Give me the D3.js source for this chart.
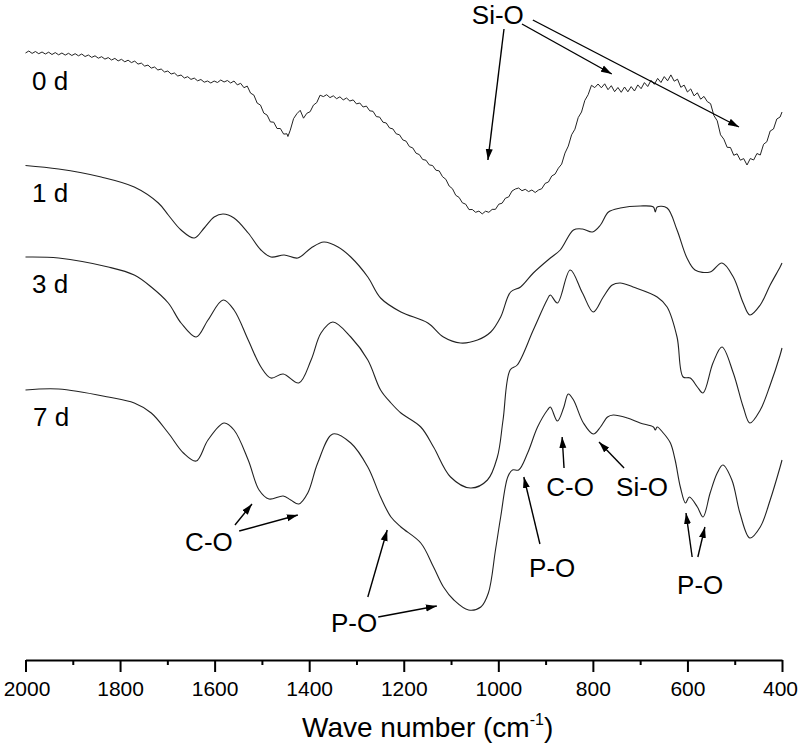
<!DOCTYPE html>
<html><head><meta charset="utf-8">
<script src="https://cdn.jsdelivr.net/npm/d3@7"></script>
<style>
html,body{margin:0;padding:0;background:#fff;}
svg{display:block;}
text{font-family:"Liberation Sans",Arial,Helvetica,sans-serif;fill:#000;}
</style>
</head><body>
<svg id="chart" width="799" height="749"></svg>
<script>
// Wavenumber (cm-1) vs. offset absorbance (a.u., larger = lower on the plot)
const seriesLabels = ["0 d", "1 d", "3 d", "7 d"];
const labelPos = [[1986, 90], [1986, 202], [1986, 293], [1984, 426]];

const day0 = [[2000,53],[1993,51],[1986,53.4],[1979,51.5],[1972,53.7],[1965,52],[1958,54],[1951,52.2],[1944,54.5],[1937,52.6],[1930,54.8],[1923,53],[1916,55.1],[1909,53.3],[1902,55.5],[1895,53.7],[1888,55.8],[1881,54],[1874,56.5],[1867,55],[1860,57.4],[1853,55.8],[1846,58.2],[1839,56.7],[1832,59.1],[1825,57.6],[1818,60],[1811,58.4],[1804,60.9],[1797,59.3],[1790,61.8],[1783,60.2],[1776,62.6],[1769,61.1],[1762,64.1],[1755,63.1],[1748,66.1],[1741,65.1],[1734,68.1],[1727,67],[1720,70],[1713,69],[1706,72],[1699,71],[1692,74],[1685,73],[1678,76],[1671,75],[1664,78],[1657,76.7],[1650,79.4],[1643,78.1],[1636,80.8],[1629,79.5],[1622,82.2],[1615,81],[1608,83],[1601,81],[1594,82.5],[1587,80],[1580,82],[1573,80.5],[1566,83],[1559,81],[1552,84.9],[1545,83.3],[1538,87.7],[1531,86.1],[1524,93.1],[1517,95.1],[1510,103.1],[1503,105.1],[1496,113.1],[1489,115.1],[1482,121.9],[1475,122.2],[1468,128.5],[1461,128.5],[1454,134.1],[1447,133.8],[1445,136.5],[1440,130.2],[1433,118.6],[1426,113.7],[1419,110.3],[1412,118.2],[1405,113.3],[1398,111.7],[1391,105.1],[1384,102.6],[1377,95.2],[1370,96.6],[1363,94.7],[1356,97.6],[1349,95.8],[1342,98.7],[1335,96.8],[1328,99.9],[1321,98],[1314,101],[1307,99.9],[1300,103.9],[1293,103],[1286,107],[1279,106.1],[1272,110.8],[1265,111.3],[1258,116.6],[1251,117.1],[1244,122.2],[1237,123],[1230,128],[1223,128.9],[1216,133.8],[1209,134.8],[1202,139.9],[1195,141.2],[1188,146.6],[1181,147.9],[1174,153.2],[1167,154.6],[1160,159.5],[1153,160.2],[1146,164.9],[1139,165.5],[1132,170.2],[1125,170.9],[1118,176.7],[1111,179.3],[1104,186],[1097,188.7],[1090,195.3],[1083,197.4],[1076,202.8],[1069,204.2],[1062,209.6],[1055,209.5],[1048,212.3],[1041,211.1],[1034,213.9],[1027,211.2],[1020,212.3],[1013,209.4],[1006,209.3],[999,204.2],[992,203.2],[985,198.2],[978,196.9],[971,191],[964,189],[957,188],[950,190.7],[943,189.3],[936,191.6],[929,190],[922,192.5],[915,190],[908,188.7],[901,183.4],[894,182],[887,176],[880,174.1],[873,168.2],[866,164.1],[859,153.1],[852,146.1],[845,134.8],[838,129.2],[831,117.6],[824,112],[817,100.4],[810,94.7],[803,85.3],[796,87.6],[789,84],[782,87.8],[775,83.8],[768,89.7],[761,85.7],[754,91.7],[747,87.5],[740,92.3],[733,87],[726,91.8],[719,86.6],[712,91],[705,84.9],[698,88.7],[691,82.6],[684,86.5],[677,80.3],[670,84.3],[663,78.4],[656,82.5],[649,76.6],[642,80.8],[635,74.9],[628,81.2],[621,79.2],[614,87.3],[607,85.1],[600,92],[593,88.9],[586,95.9],[579,92.8],[572,99.2],[565,96.4],[558,101.6],[551,103.7],[544,115.6],[537,120.8],[530,134.8],[523,139.2],[516,147.3],[509,147.5],[502,155.3],[495,153.8],[488,160.2],[481,158.6],[474,165],[467,158.5],[460,160],[453,153.5],[446,155],[439,144.3],[432,141.7],[425,131],[418,129],[411,119],[404,117],[400,112]];

const day1 = [[2000,165.5],[1930,169],[1840,177],[1770,187],[1719,203],[1698,215],[1671,230],[1643,238],[1622,228],[1601,217],[1582,214],[1559,218],[1529,233],[1502,250],[1481,257],[1453,255],[1424,258],[1396,248],[1369,242],[1339,247],[1312,257],[1276,277],[1249,298],[1206,312],[1149,323],[1116,337],[1080,343],[1044,340],[1016,332],[995,317],[974,292],[953,287],[926,273],[890,258],[869,250],[841,230],[822,229],[801,232],[784,225],[767,212],[742,208],[700,206],[672,207],[668,212],[664,207],[643,208],[622,230],[601,258],[584,270],[552,272],[527,263],[503,277],[482,303],[468,315],[446,305],[425,285],[404,267],[400,263]];

const day3 = [[2000,257],[1930,258],[1825,267],[1770,275],[1734,287],[1698,303],[1671,323],[1639,337],[1614,320],[1582,300],[1559,310],[1529,340],[1502,367],[1481,378],[1455,374],[1422,383],[1396,360],[1375,333],[1350,322],[1312,337],[1276,360],[1249,390],[1227,403],[1206,413],[1164,427],[1137,447],[1101,477],[1059,488],[1023,480],[1002,457],[990,420],[975,370],[960,365],[926,330],[897,300],[890,295],[875,303],[848,270],[822,293],[799,312],[778,297],[759,285],[742,283],[715,287],[664,297],[643,307],[622,337],[609,377],[594,378],[579,387],[567,393],[546,363],[527,347],[503,373],[482,407],[468,423],[446,410],[425,385],[404,355],[400,348]];

const day7 = [[2000,390],[1930,389],[1825,397],[1770,403],[1734,413],[1698,433],[1666,453],[1639,461],[1614,440],[1580,423],[1559,430],[1529,460],[1506,490],[1485,499],[1455,496],[1439,500],[1422,504],[1403,493],[1382,463],[1350,434],[1312,443],[1276,467],[1249,497],[1227,517],[1206,527],[1164,543],[1137,567],[1116,587],[1094,600],[1063,610],[1037,607],[1021,593],[1006,550],[995,517],[980,477],[970,470],[957,470],[938,453],[917,427],[896,410],[890,407],[875,421],[862,408],[852,394],[841,400],[820,423],[799,434],[784,427],[769,417],[757,415],[727,418],[700,423],[672,427],[668,430],[664,427],[651,433],[636,443],[626,460],[615,487],[604,503],[596,497],[579,507],[567,517],[552,493],[537,473],[525,465],[506,480],[489,513],[468,538],[446,527],[425,500],[404,467],[400,460]];

const majorTicks = [2000,1800,1600,1400,1200,1000,800,600,400];
const minorTicks = [1900,1700,1500,1300,1100,900,700,500];

// annotations: label, text anchor point [wavenumber, value], arrows [[from],[to]]
const annotations = [
  {label:"Si-O", at:[1001,24], arrows:[[[988,29],[1022,160]],[[950,24],[760,74]],[[927,20],[491,127]]]},
  {label:"C-O", at:[1612,551], arrows:[[[1557,525],[1521,504]],[[1548,531],[1424,515]]]},
  {label:"P-O", at:[1305,632], arrows:[[[1276,597],[1235,530]],[[1254,617],[1130,606]]]},
  {label:"C-O", at:[848,496], arrows:[[[861,468],[865,437]]]},
  {label:"Si-O", at:[696,496], arrows:[[[734,468],[787,442]]]},
  {label:"P-O", at:[886,577], arrows:[[[912,544],[946,477]]]},
  {label:"P-O", at:[573,594], arrows:[[[590,557],[603,513]],[[578,557],[563,527]]]}
];

const svg = d3.select("#chart");
svg.append("rect").attr("width",799).attr("height",749).attr("fill","#fff");

const x = d3.scaleLinear().domain([2000,400]).range([25.5,782]);
const y = d3.scaleLinear().domain([0,660]).range([0,660]);

const defs = svg.append("defs");
defs.append("marker").attr("id","ah").attr("markerUnits","userSpaceOnUse")
  .attr("markerWidth",12).attr("markerHeight",8).attr("refX",11).attr("refY",4)
  .attr("orient","auto")
  .append("path").attr("d","M0,0.5L11,4L0,7.5Z").attr("fill","#000");

// spectra
const rawLine = d3.line().x(d=>x(d[0])).y(d=>y(d[1])).curve(d3.curveLinear);
const smoothLine = d3.line().x(d=>x(d[0])).y(d=>y(d[1])).curve(d3.curveCatmullRom.alpha(0.5));
svg.append("path").datum(day0).attr("d",rawLine).attr("fill","none").attr("stroke","#222").attr("stroke-width",1);
[day1, day3, day7].forEach(s=>{
  svg.append("path").datum(s).attr("d",smoothLine).attr("fill","none").attr("stroke","#222").attr("stroke-width",1.1);
});

// series labels
seriesLabels.forEach((t,i)=>{
  svg.append("text").attr("x",x(labelPos[i][0])).attr("y",y(labelPos[i][1]))
    .style("font-size","26px").text(t);
});

// annotations
annotations.forEach(a=>{
  svg.append("text").attr("x",x(a.at[0])).attr("y",y(a.at[1]))
    .attr("text-anchor","middle").style("font-size","26px").text(a.label);
  a.arrows.forEach(ar=>{
    svg.append("line")
      .attr("x1",x(ar[0][0])).attr("y1",y(ar[0][1]))
      .attr("x2",x(ar[1][0])).attr("y2",y(ar[1][1]))
      .attr("stroke","#000").attr("stroke-width",1.4).attr("marker-end","url(#ah)");
  });
});

// x axis
const axisY = 660;
const gMajor = svg.append("g").attr("transform",`translate(0,${axisY})`)
  .call(d3.axisBottom(x).tickValues(majorTicks).tickFormat(d3.format("d")).tickSize(12).tickSizeOuter(0).tickPadding(9));
gMajor.select(".domain").attr("stroke","#000").attr("stroke-width",2);
gMajor.selectAll(".tick line").attr("stroke","#000").attr("stroke-width",2);
gMajor.selectAll(".tick text").style("font-size","21px").style("font-family","'Liberation Sans',Arial,sans-serif").attr("fill","#000")
  .attr("dx", d => d === 400 ? -2 : (d === 2000 ? 1 : 0));

const gMinor = svg.append("g").attr("transform",`translate(0,${axisY})`)
  .call(d3.axisBottom(x).tickValues(minorTicks).tickFormat("").tickSize(5).tickSizeOuter(0));
gMinor.select(".domain").remove();
gMinor.selectAll(".tick line").attr("stroke","#000").attr("stroke-width",2);

// axis title
const title = svg.append("text").attr("x",302).attr("y",737).style("font-size","28px");
title.append("tspan").text("Wave number (cm");
title.append("tspan").attr("dy",-12.5).style("font-size","16px").text("-1");
title.append("tspan").attr("dy",12.5).text(")");
</script>
</body></html>
